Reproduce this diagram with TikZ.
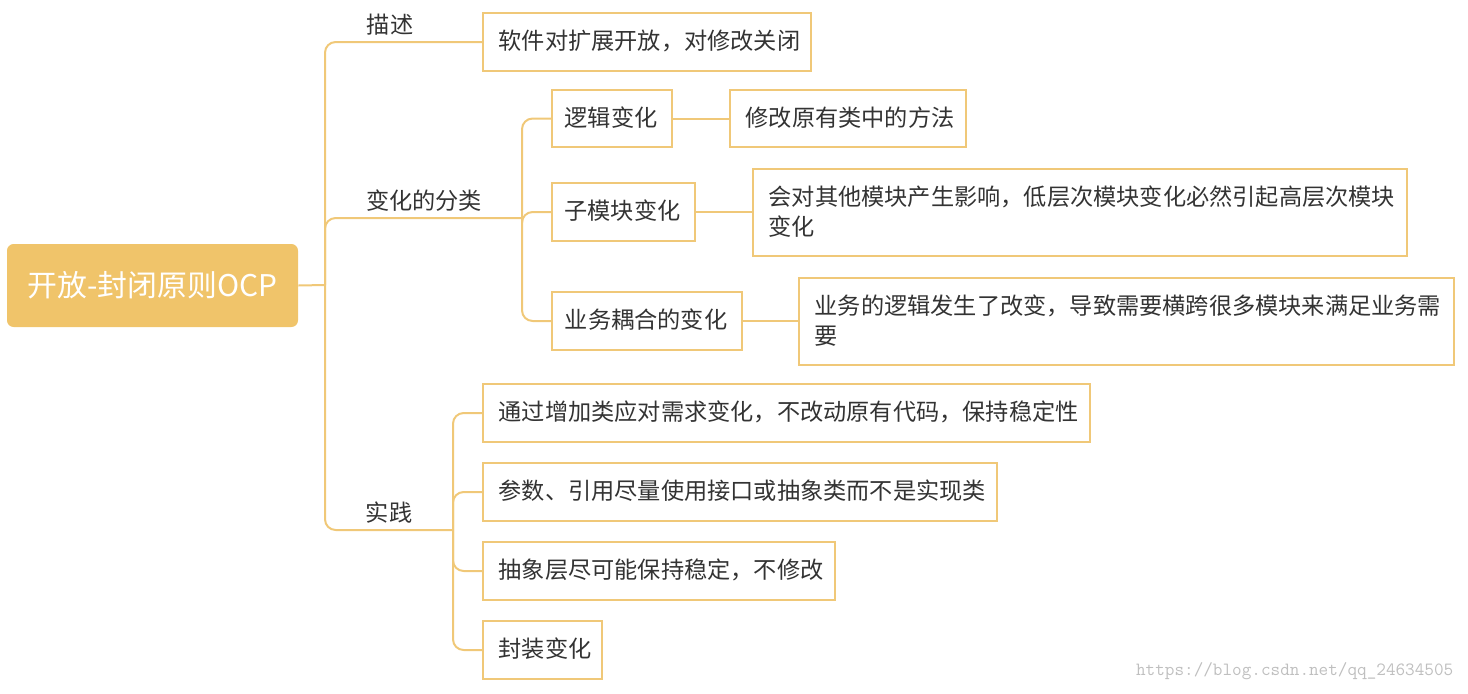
\documentclass[tikz,border=0pt]{standalone}
\usepackage{fontspec}
\newfontfamily\cjk{Noto Sans CJK SC}
\definecolor{ln}{HTML}{F0C878}
\definecolor{rootc}{HTML}{F0C46A}
\definecolor{tx}{HTML}{333333}
\begin{document}
\begin{tikzpicture}[x=0.75pt,y=-0.75pt,
  box/.style={draw=ln,line width=1.5pt,text=tx,font=\cjk\fontsize{17.4}{21}\selectfont,anchor=north west,inner sep=0pt},
  lbl/.style={text=tx,font=\cjk\fontsize{17.4}{21}\selectfont,anchor=south},
  tt/.style={text=tx,font=\cjk\fontsize{17.4}{21}\selectfont},
  tt2/.style={text=tx,font=\cjk\fontsize{17.4}{23}\selectfont,align=left,anchor=west},
  con/.style={draw=ln,line width=1.5pt,rounded corners=8pt}]
\useasboundingbox (0,0) rectangle (1468,693);
\node[fill=rootc,rounded corners=5pt,minimum width=291*0.75pt,minimum height=83*0.75pt,text=white,font=\cjk\fontsize{22.4}{26}\selectfont] (root) at (152.5,285.5) {开放-封闭原则OCP};
\coordinate (t) at (325,285);
% level 1
\node[lbl] (d) at (390,40) {描述};
\node[lbl] (c) at (424,216) {变化的分类};
\node[lbl] (p) at (389,528) {实践};
\node[box,minimum width=328*0.75pt,minimum height=58*0.75pt] (d1) at (482,12) {};
\node[tt,anchor=west] at (494,41) {软件对扩展开放，对修改关闭};
\draw[con] (root.east) -- (t);
\draw[con] (t) |- (d1.west);
\coordinate (c0) at (522,218);
\draw[con] (t) |- (c0);
\coordinate (p0) at (453,530);
\draw[con] (t) |- (p0);
% change categories
\node[box,minimum width=120*0.75pt,minimum height=57*0.75pt] (c1) at (551,89) {};
\node[tt] at (611,117.5) {逻辑变化};
\node[box,minimum width=143*0.75pt,minimum height=58*0.75pt] (c2) at (551,182) {};
\node[tt] at (622.5,211) {子模块变化};
\node[box,minimum width=190*0.75pt,minimum height=58*0.75pt] (c3) at (551,291) {};
\node[tt] at (646,320) {业务耦合的变化};
\draw[con] (c0) |- (c1.west);
\draw[con] (c0) |- (c3.west);
\draw[con] (c0) |- (c2.west);
\node[box,minimum width=236*0.75pt,minimum height=57*0.75pt] (e1) at (729,89) {};
\node[tt,anchor=west] at (741,117.5) {修改原有类中的方法};
\node[box,minimum width=654*0.75pt,minimum height=87*0.75pt] (e2) at (752,168) {};
\node[tt2] at (764,211.5) {会对其他模块产生影响，低层次模块变化必然引起高层次模块\\变化};
\node[box,minimum width=655*0.75pt,minimum height=87*0.75pt] (e3) at (798,277) {};
\node[tt2] at (810,320.5) {业务的逻辑发生了改变，导致需要横跨很多模块来满足业务需\\要};
\draw[con] (c1.east) -- (e1.west);
\draw[con] (c2.east) -- (c2.east -| e2.west);
\draw[con] (c3.east) -- (c3.east -| e3.west);
% practice
\node[box,minimum width=607*0.75pt,minimum height=58*0.75pt] (p1) at (482,383) {};
\node[tt,anchor=west] at (494,412) {通过增加类应对需求变化，不改动原有代码，保持稳定性};
\node[box,minimum width=514*0.75pt,minimum height=58*0.75pt] (p2) at (482,462) {};
\node[tt,anchor=west] at (494,491) {参数、引用尽量使用接口或抽象类而不是实现类};
\node[box,minimum width=352*0.75pt,minimum height=58*0.75pt] (p3) at (482,541) {};
\node[tt,anchor=west] at (494,570) {抽象层尽可能保持稳定，不修改};
\node[box,minimum width=119*0.75pt,minimum height=58*0.75pt] (p4) at (482,620) {};
\node[tt,anchor=west] at (494,649) {封装变化};
\draw[con] (p0) |- (p1.west);
\draw[con] (p0) |- (p4.west);
\draw[con] (p0) |- (p2.west);
\draw[con] (p0) |- (p3.west);
\node[text=gray!50,font=\ttfamily\fontsize{14}{16}\selectfont,anchor=east] (wm) at (1458,671) {https://blog.csdn.net/qq\_24634505};
\end{tikzpicture}
\end{document}
